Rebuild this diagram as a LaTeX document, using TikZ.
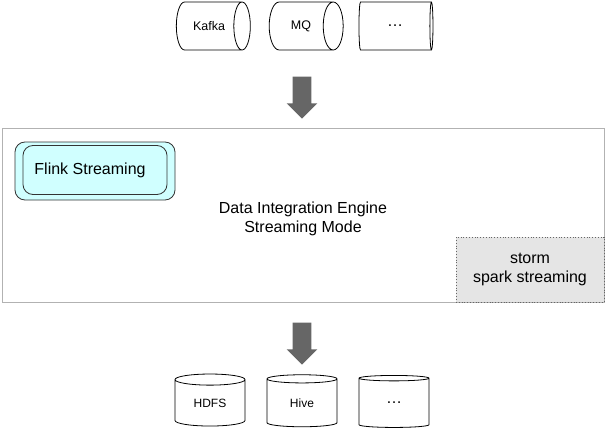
\documentclass[tikz,border=0pt]{standalone}
\usepackage{fontspec}
\setmainfont{Liberation Sans}
\usetikzlibrary{shapes.geometric,shapes.arrows}

\definecolor{jobfill}{RGB}{208,255,255}

\tikzset{
  src/.style={draw, cylinder, aspect=1.8, minimum width=48pt, minimum height=74pt, inner sep=0pt, font=\fontsize{12.5}{14}\selectfont},
  sink/.style={draw, cylinder, shape border rotate=90, aspect=0.34, minimum width=70pt, minimum height=52pt, inner sep=0pt, font=\fontsize{12}{14}\selectfont},
  flow/.style={single arrow, fill=black!60, draw=none, shape border rotate=270, minimum height=42pt, single arrow head extend=6pt, inner sep=9pt},
  engine/.style={draw=black!30, minimum width=602pt, minimum height=174pt},
  job/.style={draw=black!80, rounded corners=10pt, fill=jobfill, line width=0.8pt}
}
\newcommand{\moredots}{{\fontsize{16}{16}\selectfont\ldots}}

\begin{document}
\begin{tikzpicture}[x=1pt, y=-1pt, line width=0.8pt]
\useasboundingbox (0,0) rectangle (606,431);
\node[src] (kafka) at (209,26) {Kafka};
\node[src] (mq) at (301,26) {MQ};
\node[src] (more1) at (395,26) {\moredots};

\node[flow] (in) at (302,93) {};

\node[engine] (engine) at (303,215) {};
\node[align=center, font=\fontsize{16}{19}\selectfont] (mode) at (303,219) {Data Integration Engine\\Streaming Mode};
\node[job, minimum width=160pt, minimum height=58pt] (flinkback) at (95,171) {};
\node[job, minimum width=144pt, minimum height=49pt, font=\fontsize{16}{18}\selectfont] (flink) at (95,170) {Flink Streaming\kern10pt};
\node[draw=black!60, dotted, fill=black!10, minimum width=148pt, minimum height=65pt, align=center, font=\fontsize{16}{19}\selectfont] (storm) at (530,269.5) {storm\\spark streaming};

\node[flow] (out) at (302,339) {};

\node[sink] (hdfs) at (210,403) {HDFS};
\node[sink] (hive) at (302,403) {Hive};
\node[sink] (more2) at (394,403) {\moredots};
\end{tikzpicture}
\end{document}
